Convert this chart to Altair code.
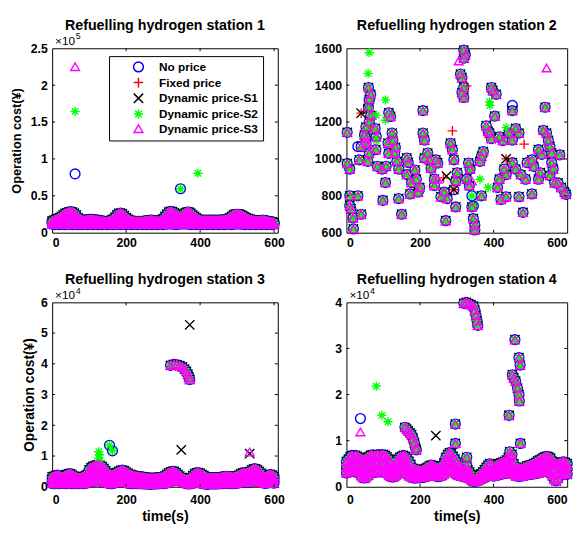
import altair as alt
import pandas as pd

FONT = "Liberation Sans"
SERIES = ["No price", "Fixed price", "Dynamic price-S1", "Dynamic price-S2", "Dynamic price-S3"]
COLORS = ["#0000FF", "#FF0000", "#000000", "#00FF00", "#FF00FF"]
PLUS = "M0,-1L0,1M-1,0L1,0"
XMARK = "M-1,-1L1,1M-1,1L1,-1"
AST = "M0,-1L0,1M-1,0L1,0M-0.7,-0.7L0.7,0.7M-0.7,0.7L0.7,-0.7"
SHAPES = ["circle", PLUS, XMARK, AST, "triangle-up"]
SIZES = [100, 80, 40, 80, 130]

T_GRID = list(range(0, 601, 5))
X_TICKS = [0, 200, 400, 600]

# ---------------- Station 1 (values in thousands on the 5 s grid) -------------
S1_HI = [16, 17, 18, 19, 20, 22, 24, 26, 27, 28,
         28.5, 28, 26.5, 24, 20, 18, 17.5, 17, 17, 17.5,
         18, 18, 18, 17.5, 17, 17, 16.5, 16, 15.5, 15,
         15.5, 16, 17, 18.5, 21, 24, 26, 26.5, 25.5, 23,
         20.5, 18.5, 17, 16, 15.5, 15.5, 15.5, 15.5, 15.5, 15.5,
         16, 16, 16.5, 17, 17, 16.5, 16, 16, 16, 16.5,
         19, 22, 25, 28, 29, 28.5, 27, 25, 22, 20.5,
         22, 25, 27, 28, 28, 26.5, 24, 22, 20, 18,
         17, 17, 17, 17, 17, 17, 17, 17, 17, 17,
         17, 17, 17.5, 17.5, 18, 18.5, 20, 22, 24, 25,
         25, 25, 24.5, 23, 21.5, 20, 19, 18, 17.5, 17,
         16.5, 16, 16, 16.5, 17, 16.5, 16, 15.5, 15, 14.5,
         14]
S1_MID = [14, 14, 15, 15, 16, 17, 18, 19, 20, 20,
          20, 20, 19, 18, 16, 15, 15, 14, 14, 15,
          15, 15, 15, 15, 14, 14, 14, 14, 13, 13,
          13, 14, 14, 15, 16, 18, 19, 19, 19, 18,
          16, 15, 14, 14, 13, 13, 13, 13, 13, 13,
          14, 14, 14, 14, 14, 14, 14, 14, 14, 14,
          15, 17, 19, 20, 21, 21, 20, 19, 17, 16,
          17, 19, 20, 21, 21, 20, 18, 17, 16, 15,
          14, 14, 14, 14, 14, 14, 14, 14, 14, 14,
          14, 14, 15, 15, 15, 15, 16, 17, 18, 19,
          19, 19, 19, 18, 17, 16, 15, 15, 14, 14,
          14, 14, 14, 14, 14, 14, 14, 13, 13, 13,
          13]
S1_LO = [12, 11, 12, 12, 11, 12, 12, 11, 12, 12,
         12, 11, 12, 12, 11, 12, 11, 12, 12, 11,
         12, 12, 11, 12, 12, 11, 12, 11, 12, 12,
         11, 12, 12, 11, 12, 12, 12, 11, 12, 12,
         11, 12, 12, 11, 12, 12, 11, 12, 12, 11,
         12, 11, 12, 12, 11, 12, 12, 11, 12, 12,
         11, 12, 12, 12, 12, 12, 12, 11, 12, 12,
         12, 12, 12, 12, 12, 11, 12, 12, 11, 12,
         12, 11, 12, 12, 11, 12, 12, 11, 12, 12,
         11, 12, 12, 11, 12, 12, 12, 11, 12, 12,
         12, 12, 12, 12, 11, 12, 12, 11, 12, 12,
         11, 12, 12, 11, 12, 12, 11, 12, 12, 11,
         12]
S1_OUT = {
    "No price": [(62, 79700), (347, 59600)],
    "Dynamic price-S2": [(62, 164400), (347, 59600), (394, 80600)],
    "Dynamic price-S3": [(62, 225000)],
}

# ---------------- Station 2 (clusters of points, raw values) ----------------
S2_T = [2, 2, 9, 9, 9, 12, 18, 19, 31, 40, 35, 40, 53,
        60, 66, 62, 60, 66, 62, 53, 49, 53, 62, 58,
        78, 81, 80, 84, 97, 106, 99,
        115, 120, 113, 124, 126, 133, 115, 108,
        131, 137, 142, 142, 150,
        164, 168, 164, 177, 173,
        186, 190, 199, 195,
        208, 212, 221, 226, 212, 208,
        230, 239, 239, 243, 248,
        257, 266, 274, 270,
        283, 288, 292, 301, 297, 297,
        319, 323, 319, 310, 314, 319, 314, 319,
        332, 336, 327, 334, 341, 345, 349, 349,
        363, 367, 372, 367,
        380, 385, 389, 394,
        394, 398, 407, 403,
        416, 425, 416, 411, 420, 429, 434, 434,
        442, 451, 460, 469, 451, 451, 460,
        469, 480, 474, 487, 491,
        504, 509, 504,
        522, 531, 527, 522,
        535, 544, 549, 553, 540,
        558, 558, 562, 553, 566,
        580, 575, 584, 593, 597]
S2_V = [1144, 975, 945, 800, 747, 730, 680, 620, 800, 700, 995, 1067, 1111,
        1387, 1350, 1323, 1280, 1236, 1200, 1173, 1130, 1085, 1030, 987,
        1165, 1120, 1050, 960, 945, 872, 775,
        1250, 1230, 1085, 1140, 1100, 1062, 1030, 960,
        1030, 987, 945, 785, 700,
        1005, 980, 915, 872, 810,
        940, 890, 845, 820,
        1140, 1102, 1032, 995, 1005, 1262,
        950, 890, 855, 995, 978,
        795, 820, 785, 665,
        1085, 1050, 995, 925, 880, 740,
        1590, 1565, 1547, 1460, 1440, 1387, 1360, 1333,
        978, 945, 890, 855, 740, 676, 640, 615,
        987, 1015, 1040, 800,
        1180, 1150, 1140, 1110,
        1387, 1370, 1350, 1232,
        1120, 1100, 890, 845, 780, 945, 915, 795,
        1140, 1102, 1165, 1140, 1262, 980, 945,
        795, 710, 915, 890, 980,
        995, 960, 810,
        1050, 1025, 925, 890,
        1155, 1140, 1100, 1067, 1280,
        1032, 980, 945, 910, 870,
        1022, 870, 845, 820, 808]
S2_OUT = {
    "No price": [(451, 1290), (292, 833), (341, 800), (345, 745), (31, 1067), (62, 1320)],
    "Fixed price": [(288, 1152), (483, 1080), (434, 1000), (40, 1248), (264, 897),
                    (327, 1396), (292, 833), (62, 1173)],
    "Dynamic price-S1": [(40, 1248), (58, 1270), (272, 907), (292, 833), (434, 1000)],
    "Dynamic price-S2": [(62, 1576), (59, 1463), (81, 1236), (106, 1320), (106, 1210),
                         (81, 1100), (389, 1310), (390, 1290), (363, 890), (385, 845),
                         (434, 1170), (341, 800), (345, 745)],
    "Dynamic price-S3": [(305, 1531), (544, 1493), (341, 880), (248, 890), (60, 1080)],
}

# ---------------- Station 3 (thousands on the 5 s grid) ----------------------
S3_HI = [3.2, 3.4, 3.6, 3.8, 3.6, 3.3, 3.2, 3.5, 4.0, 4.3,
         4.2, 3.8, 3.4, 3.2, 3.0, 3.0, 3.1, 3.3, 3.6, 4.0,
         5.5, 6.2, 6.6, 6.8, 7.0, 7.2, 7.0, 6.6, 6.0, 5.2,
         4.5, 4.0, 3.8, 3.9, 4.2, 4.6, 5.0, 5.3, 5.4, 5.2,
         4.8, 4.4, 4.0, 3.8, 3.7, 3.5, 3.4, 3.3, 3.2, 3.2,
         3.0, 3.0, 2.9, 2.8, 2.8, 2.8, 2.9, 3.0, 3.0, 3.1,
         3.2, 3.5, 4.0, 4.5, 4.8, 5.0, 5.0, 4.6, 4.0, 3.5,
         3.0, 2.6, 2.4, 2.4, 2.6, 3.0, 3.6, 4.2, 4.5, 4.6,
         4.4, 4.0, 3.6, 3.2, 3.0, 3.0, 3.0, 3.0, 3.0, 3.0,
         3.0, 3.1, 3.2, 3.3, 3.4, 3.4, 3.3, 3.2, 3.2, 3.3,
         3.5, 3.8, 4.2, 4.5, 4.6, 4.5, 4.6, 5.0, 5.5, 5.8,
         5.8, 5.5, 5.0, 4.4, 3.8, 3.3, 3.4, 3.8, 4.0, 3.8,
         3.4]
S3_MID = [2.2, 2.3, 2.4, 2.5, 2.4, 2.3, 2.2, 2.4, 2.6, 2.8,
          2.8, 2.6, 2.4, 2.2, 2.1, 2.1, 2.2, 2.3, 2.4, 2.6,
          3.4, 4.0, 4.4, 4.6, 4.8, 5.0, 4.8, 4.4, 4.0, 3.4,
          3.0, 2.7, 2.6, 2.7, 2.9, 3.2, 3.5, 3.7, 3.8, 3.6,
          3.3, 3.0, 2.8, 2.6, 2.5, 2.4, 2.4, 2.3, 2.2, 2.2,
          2.1, 2.1, 2.0, 2.0, 2.0, 2.0, 2.0, 2.1, 2.1, 2.2,
          2.2, 2.4, 2.8, 3.2, 3.4, 3.6, 3.6, 3.3, 2.9, 2.6,
          2.4, 2.2, 2.0, 2.0, 2.1, 2.2, 2.6, 3.0, 3.2, 3.2,
          3.0, 2.8, 2.5, 2.3, 2.1, 2.1, 2.1, 2.1, 2.1, 2.1,
          2.1, 2.2, 2.2, 2.3, 2.4, 2.4, 2.3, 2.2, 2.2, 2.3,
          2.4, 2.6, 2.9, 3.1, 3.2, 3.1, 3.2, 3.5, 3.8, 4.0,
          4.0, 3.8, 3.5, 3.1, 2.7, 2.4, 2.4, 2.7, 2.8, 2.7,
          2.4]
S3_LO = [1.2, 1.0, 1.1, 1.3, 1.0, 1.2, 1.1, 1.0, 1.2, 1.3,
         1.1, 1.0, 1.2, 1.1, 1.0, 1.2, 1.1, 1.0, 1.2, 1.3,
         1.6, 1.8, 2.0, 1.9, 2.0, 2.1, 1.9, 1.8, 1.6, 1.4,
         1.2, 1.1, 1.0, 1.2, 1.3, 1.4, 1.6, 1.7, 1.6, 1.5,
         1.3, 1.2, 1.1, 1.0, 1.2, 1.1, 1.0, 1.1, 1.0, 1.0,
         0.9, 1.0, 0.9, 0.8, 0.9, 1.0, 0.9, 1.0, 1.0, 1.1,
         1.0, 1.1, 1.3, 1.5, 1.8, 2.2, 2.4, 2.4, 2.2, 2.0,
         1.8, 1.5, 1.2, 1.0, 0.9, 1.0, 1.2, 1.4, 1.5, 1.4,
         1.3, 1.1, 1.0, 0.9, 0.8, 0.9, 1.0, 0.9, 1.0, 0.9,
         1.0, 1.1, 1.0, 1.1, 1.2, 1.1, 1.0, 1.1, 1.0, 1.1,
         1.2, 1.3, 1.5, 1.6, 1.5, 1.4, 1.5, 1.7, 1.9, 2.0,
         2.0, 1.9, 1.7, 1.5, 1.3, 1.1, 1.2, 1.3, 1.4, 1.3,
         1.2]
S3_EXTRA = [(320, 39500), (329, 39800), (337, 39700), (345, 39400), (352, 39000),
            (358, 38300), (363, 37500), (367, 36600), (370, 35700), (372, 34900)]
S3_OUT = {
    "No price": [(155, 13500), (163, 11700)],
    "Dynamic price-S1": [(349, 12000), (372, 52700), (534, 10800)],
    "Dynamic price-S2": [(155, 13500), (163, 11700), (126, 11400), (128, 10400),
                         (125, 9300), (130, 8500)],
    "Dynamic price-S3": [(534, 11300)],
}

# ---------------- Station 4 (thousands on the 5 s grid) ----------------------
S4_HI = [5.5, 6.0, 6.5, 6.8, 6.5, 6.8, 6.6, 6.3, 6.0, 5.8,
         6.0, 6.2, 6.5, 6.8, 6.9, 6.6, 6.8, 7.0, 6.6, 6.9,
         7.0, 6.8, 6.5, 6.0, 5.2, 4.7, 4.8, 5.5, 6.0, 6.4,
         6.6, 6.8, 6.6, 6.2, 5.5, 4.8, 4.0, 3.8, 3.6, 3.8,
         3.5, 3.4, 3.7, 4.0, 4.2, 4.5, 4.7, 4.6, 4.4, 4.2,
         4.0, 4.2, 4.5, 5.2, 6.3, 7.0, 7.4, 7.2, 6.6, 6.0,
         5.3, 4.7, 4.5, 4.0, 3.8, 3.7, 3.6, 3.2, 2.5, 1.8,
         1.6, 2.0, 2.5, 2.8, 3.2, 3.7, 4.2, 4.7, 5.0, 4.6,
         4.2, 4.4, 4.8, 5.0, 5.2, 5.3, 5.5, 5.8, 6.3, 6.8,
         7.0, 5.0, 4.2, 4.0, 4.0, 4.0, 4.0, 4.2, 4.5, 4.6,
         4.7, 4.8, 5.0, 5.3, 5.6, 5.8, 6.0, 6.3, 6.5, 6.6,
         6.5, 6.2, 5.5, 5.0, 5.0, 5.0, 5.2, 5.3, 5.4, 5.3,
         5.0]
S4_MID = [4.2, 4.5, 4.8, 5.0, 4.8, 5.0, 4.9, 4.6, 4.2, 3.8,
          3.8, 4.0, 4.4, 4.8, 5.0, 4.8, 5.0, 5.2, 4.8, 5.0,
          5.2, 5.0, 4.6, 4.2, 3.6, 3.2, 3.4, 4.0, 4.4, 4.8,
          5.0, 5.0, 4.8, 4.4, 3.8, 3.4, 3.0, 2.8, 2.7, 2.8,
          2.8, 2.8, 3.0, 3.2, 3.4, 3.6, 3.7, 3.6, 3.5, 3.3,
          3.2, 3.3, 3.6, 4.0, 4.8, 5.3, 5.6, 5.4, 5.0, 4.5,
          4.0, 3.6, 3.4, 3.1, 3.0, 2.9, 2.8, 2.5, 2.0, 1.5,
          1.4, 1.6, 2.0, 2.2, 2.5, 2.9, 3.2, 3.6, 3.8, 3.6,
          3.3, 3.4, 3.7, 3.9, 4.0, 4.1, 4.2, 4.4, 4.8, 5.2,
          5.4, 3.8, 3.3, 3.1, 3.1, 3.1, 3.2, 3.3, 3.5, 3.6,
          3.6, 3.7, 3.8, 4.0, 4.3, 4.4, 4.6, 4.8, 5.0, 5.0,
          4.9, 4.6, 4.0, 3.2, 2.8, 3.0, 3.8, 4.0, 4.1, 4.0,
          3.8]
S4_LO = [3.0, 3.2, 3.4, 3.5, 3.3, 3.4, 3.2, 3.0, 2.4, 2.0,
         1.9, 2.2, 2.6, 3.0, 3.2, 3.1, 3.2, 3.4, 3.2, 3.3,
         3.4, 3.3, 3.0, 2.6, 2.3, 2.1, 2.2, 2.6, 3.0, 3.2,
         3.4, 3.4, 3.2, 2.8, 2.4, 2.2, 2.0, 1.9, 1.9, 2.0,
         2.0, 2.0, 2.1, 2.2, 2.4, 2.6, 2.6, 2.5, 2.4, 2.3,
         2.2, 2.3, 2.5, 2.8, 3.3, 3.6, 3.8, 3.7, 3.4, 3.0,
         2.7, 2.5, 2.4, 2.3, 2.2, 2.1, 2.0, 1.8, 1.5, 1.2,
         1.2, 1.3, 1.5, 1.7, 1.9, 2.1, 2.3, 2.5, 2.6, 2.5,
         2.3, 2.4, 2.6, 2.7, 2.8, 2.8, 2.9, 3.0, 3.2, 3.5,
         3.6, 2.8, 2.4, 2.3, 2.3, 2.3, 2.4, 2.5, 2.6, 2.7,
         2.7, 2.8, 2.8, 2.9, 3.0, 3.1, 3.2, 3.3, 3.4, 3.4,
         3.3, 3.0, 2.4, 1.6, 1.3, 1.8, 2.6, 2.8, 2.9, 2.8,
         2.7]
S4_EXTRA = [(159, 12900), (164, 12500), (168, 12100), (173, 11700), (177, 11300),
            (181, 10500), (185, 9500), (188, 8400), (190, 8000),
            (319, 39800), (326, 40000), (332, 39700), (338, 39500), (345, 39200),
            (349, 38300), (352, 37200), (355, 36000), (357, 35000),
            (296, 13600), (296, 9400), (327, 6400), (327, 4600), (442, 15500),
            (444, 7600), (451, 24300), (455, 23600), (460, 22900), (465, 21400),
            (469, 20000), (470, 18600), (458, 31900), (469, 28000), (472, 26400),
            (473, 9400)]
S4_OUT = {
    "No price": [(38, 14800)],
    "Dynamic price-S1": [(243, 11100), (442, 15500)],
    "Dynamic price-S2": [(81, 21800), (96, 15500), (113, 14100)],
    "Dynamic price-S3": [(38, 11900)],
}


def build_df(rows, extra, outliers, scale=1000.0, grid=T_GRID):
    recs = []
    for si, s in enumerate(SERIES):
        for row in rows:
            for t, v in zip(grid, row):
                recs.append((t, v * scale, s, si))
        for t, v in extra:
            recs.append((t, v, s, si))
        for t, v in outliers.get(s, []):
            recs.append((t, v, s, si))
    return pd.DataFrame(recs, columns=["t", "v", "series", "k"])


df1 = build_df([S1_LO, S1_MID, S1_HI], [], S1_OUT)
df2 = build_df([], list(zip(S2_T, S2_V)), S2_OUT)
df3 = build_df([S3_LO, S3_MID, S3_HI], S3_EXTRA, S3_OUT)
df4 = build_df([S4_LO, S4_MID, S4_HI], S4_EXTRA, S4_OUT)

LEG = alt.Legend(orient="none", legendX=58, legendY=8, title=None,
                 direction="vertical", strokeColor="black", fillColor="white",
                 padding=5, labelFont=FONT, labelFontSize=12, labelFontWeight="bold",
                 labelColor="black", symbolStrokeWidth=1.5, rowPadding=0,
                 symbolOffset=19, labelOffset=15, cornerRadius=0)

H = 188


def panel(df, title, xmax, ydom, yticks, exp, w, yaxis, xaxis):
    xs = alt.Scale(domain=[0, xmax], nice=False, zero=False)
    ys = alt.Scale(domain=ydom, nice=False, zero=False)
    pts = alt.Chart(df).mark_point(filled=False, strokeWidth=1.4, opacity=1).encode(
        x=alt.X("t:Q", scale=xs, axis=xaxis),
        y=alt.Y("v:Q", scale=ys, axis=yaxis),
        color=alt.Color("series:N", scale=alt.Scale(domain=SERIES, range=COLORS), legend=LEG),
        shape=alt.Shape("series:N", scale=alt.Scale(domain=SERIES, range=SHAPES), legend=LEG),
        size=alt.Size("series:N", scale=alt.Scale(domain=SERIES, range=SIZES), legend=LEG),
    )
    xt = pd.DataFrame({"t": [x for x in X_TICKS if 0 < x < xmax]})
    yt = pd.DataFrame({"v": [y for y in yticks if ydom[0] < y < ydom[1]]})
    tick_style = dict(color="black", strokeWidth=1)
    ticks = [
        alt.Chart(xt).mark_rule(**tick_style).encode(
            x=alt.X("t:Q", scale=xs, axis=xaxis), y=alt.value(H), y2=alt.value(H - 3)),
        alt.Chart(xt).mark_rule(**tick_style).encode(
            x=alt.X("t:Q", scale=xs, axis=xaxis), y=alt.value(0), y2=alt.value(3)),
        alt.Chart(yt).mark_rule(**tick_style).encode(
            y=alt.Y("v:Q", scale=ys, axis=yaxis), x=alt.value(0), x2=alt.value(3)),
        alt.Chart(yt).mark_rule(**tick_style).encode(
            y=alt.Y("v:Q", scale=ys, axis=yaxis), x=alt.value(w), x2=alt.value(w - 3)),
    ]
    one = pd.DataFrame({"a": [0]})
    layers = [pts] + ticks
    layers.append(alt.Chart(one).mark_text(text=title, font=FONT, fontSize=14.5,
                                           fontWeight="bold", align="center",
                                           baseline="alphabetic", color="black")
                  .encode(x=alt.value(w / 2), y=alt.value(-19)))
    if exp:
        layers.append(alt.Chart(one).mark_text(text="×10", font=FONT, fontSize=12,
                                               align="left", baseline="alphabetic",
                                               color="black")
                      .encode(x=alt.value(3), y=alt.value(-3)))
        layers.append(alt.Chart(one).mark_text(text=exp, font=FONT, fontSize=9,
                                               align="left", baseline="alphabetic",
                                               color="black")
                      .encode(x=alt.value(24), y=alt.value(-9)))
    return alt.layer(*layers).properties(width=w, height=H)


def yax(ticks, expr, title=None, tsize=13, tpad=4):
    kw = dict(values=ticks, labelExpr=expr, labelPadding=5, labelFontSize=12.5,
              labelOverlap=False)
    if title:
        kw.update(title=title, titleFontSize=tsize, titlePadding=tpad)
    else:
        kw.update(title=None)
    return alt.Axis(**kw)


def xax(title=None, lsize=12, lpad=3):
    kw = dict(values=X_TICKS, labelFontSize=lsize, labelPadding=lpad, labelOverlap=False)
    if title:
        kw.update(title=title, titleFontSize=14.5, titlePadding=4)
    else:
        kw.update(title=None)
    return alt.Axis(**kw)


p1 = panel(df1, "Refuelling hydrogen station 1", 610, [0, 250000],
           [0, 50000, 100000, 150000, 200000, 250000], "5", 230,
           yax([0, 50000, 100000, 150000, 200000, 250000], "datum.value / 100000",
               "Operation cost(¥)", 13, 7), xax(None, 12.5, 4))
p2 = panel(df2, "Refuelling hydrogen station 2", 600, [600, 1600],
           [600, 800, 1000, 1200, 1400, 1600], None, 225,
           yax([600, 800, 1000, 1200, 1400, 1600], "datum.value"), xax(None, 12.5, 4))
p3 = panel(df3, "Refuelling hydrogen station 3", 610, [0, 60000],
           [0, 10000, 20000, 30000, 40000, 50000, 60000], "4", 230,
           yax([0, 10000, 20000, 30000, 40000, 50000, 60000], "datum.value / 10000",
               "Operation cost(¥)", 14, 4), xax("time(s)", 12.5, 7))
p4 = panel(df4, "Refuelling hydrogen station 4", 600, [0, 40000],
           [0, 10000, 20000, 30000, 40000], "4", 225,
           yax([0, 10000, 20000, 30000, 40000], "datum.value / 10000"),
           xax("time(s)", 12.5, 7))

chart = alt.concat(p1, p2, p3, p4, columns=2, spacing={"row": 22, "column": 28}).properties(
    padding={"left": 2, "top": 4, "right": 0, "bottom": 0}
).configure_view(stroke="black", strokeWidth=1).configure_axis(
    labelFont=FONT, labelFontSize=12, labelFontWeight="bold", labelColor="black",
    titleFont=FONT, titleFontSize=13, titleFontWeight="bold", titleColor="black",
    ticks=False, domain=False, grid=False
)

chart.save("out.html", embed_options={"renderer": "svg", "actions": False})
